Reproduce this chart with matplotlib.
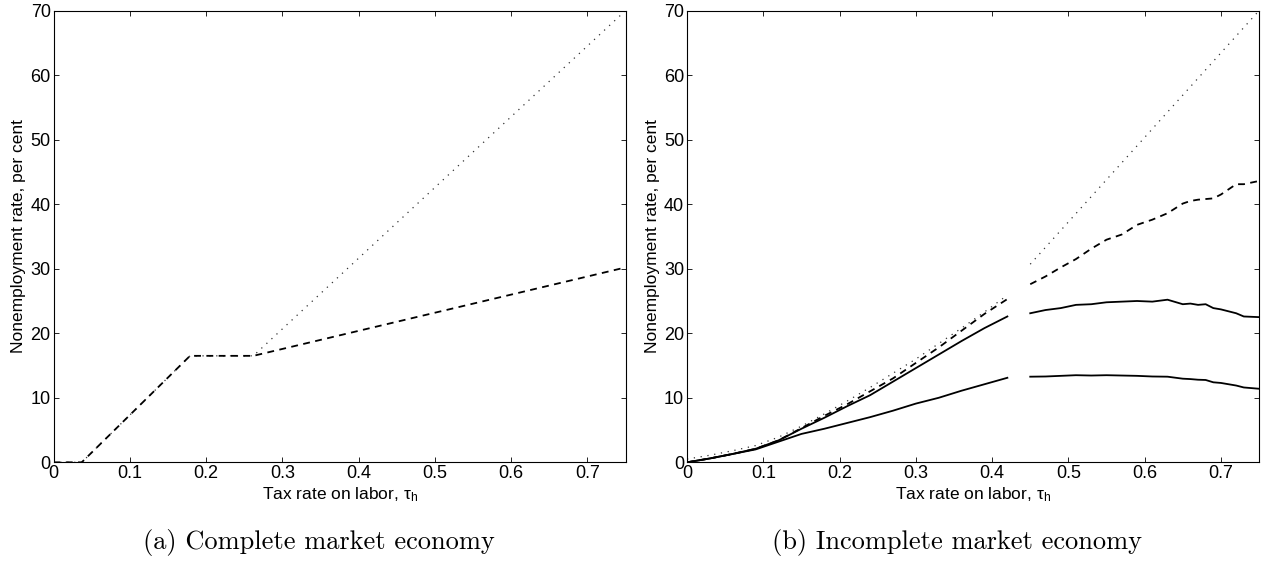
import numpy as np
import matplotlib
matplotlib.use('Agg')
import matplotlib.pyplot as plt

plt.rcParams['font.family'] = ['Liberation Sans', 'DejaVu Sans']
plt.rcParams['mathtext.fontset'] = 'custom'
plt.rcParams['mathtext.rm'] = 'Liberation Sans'
plt.rcParams['mathtext.it'] = 'Liberation Sans:italic'

# (a) complete market economy
xa_dot = [0, 0.037, 0.179, 0.262, 0.75]
ya_dot = [0, 0, 16.5, 16.5, 70.0]
xa_dash = [0, 0.037, 0.179, 0.262, 0.75]
ya_dash = [0, 0, 16.5, 16.5, 30.2]

# (b) incomplete market economy, before and after the gap
x1 = [0, 0.03, 0.06, 0.09, 0.12, 0.15, 0.18, 0.21, 0.24, 0.27, 0.30, 0.33, 0.36, 0.39, 0.42]
x2 = [0.45, 0.47, 0.49, 0.51, 0.53, 0.55, 0.57, 0.59, 0.61, 0.63, 0.65, 0.66, 0.67, 0.68,
      0.69, 0.70, 0.72, 0.73, 0.75]

upper1 = [0, 0.6, 1.3, 2.1, 3.4, 5.2, 6.9, 8.7, 10.4, 12.5, 14.6, 16.7, 18.8, 20.8, 22.6]
upper2 = [23.1, 23.6, 23.9, 24.4, 24.5, 24.8, 24.9, 25.0, 24.9, 25.2, 24.5, 24.6, 24.4, 24.5,
          23.9, 23.7, 23.1, 22.6, 22.5]
lower1 = [0, 0.6, 1.3, 2.0, 3.2, 4.4, 5.2, 6.1, 7.0, 8.0, 9.1, 10.0, 11.1, 12.1, 13.1]
lower2 = [13.27, 13.3, 13.4, 13.5, 13.45, 13.5, 13.45, 13.4, 13.3, 13.27, 12.96, 12.9, 12.8,
          12.76, 12.4, 12.3, 11.9, 11.6, 11.4]
dash1 = [0, 0.6, 1.3, 2.1, 3.4, 5.3, 7.2, 9.0, 11.0, 13.0, 15.4, 17.8, 20.4, 23.0, 25.3]
dash2 = [27.6, 28.8, 30.2, 31.5, 33.1, 34.5, 35.3, 36.8, 37.6, 38.6, 40.1, 40.5, 40.7, 40.8,
         40.9, 41.5, 43.1, 43.1, 43.6]
xb_dot1 = [0, 0.03, 0.06, 0.09, 0.12, 0.15, 0.18, 0.21, 0.24, 0.27, 0.30, 0.33, 0.36, 0.39, 0.42]
yb_dot1 = [0.5, 1.1, 1.8, 2.6, 3.9, 5.6, 7.5, 9.5, 11.6, 13.8, 16.0, 18.4, 20.8, 23.3, 25.9]
xb_dot2 = [0.45, 0.75]
yb_dot2 = [30.7, 70.0]

xticks = [0, 0.1, 0.2, 0.3, 0.4, 0.5, 0.6, 0.7]
xticklabels = ['0', '0.1', '0.2', '0.3', '0.4', '0.5', '0.6', '0.7']
yticks = [0, 10, 20, 30, 40, 50, 60, 70]

dotted = dict(color='#333333', lw=0.9, linestyle=(0, (1, 4.5)))
dashed = dict(color='black', lw=1.3, linestyle=(0, (3.8, 3.0)))
solid = dict(color='black', lw=1.3)

fig = plt.figure(figsize=(12.65, 5.61), dpi=100)
ax1 = fig.add_axes([0.0423, 0.1759, 0.4522, 0.8052])
ax2 = fig.add_axes([0.5431, 0.1759, 0.4522, 0.8052])

ax1.plot(xa_dot, ya_dot, **dotted)
ax1.plot(xa_dash, ya_dash, **dashed)

ax2.plot(xb_dot1, yb_dot1, **dotted)
ax2.plot(xb_dot2, yb_dot2, **dotted)
ax2.plot(x1, dash1, **dashed)
ax2.plot(x2, dash2, **dashed)
ax2.plot(x1, upper1, **solid)
ax2.plot(x2, upper2, **solid)
ax2.plot(x1, lower1, **solid)
ax2.plot(x2, lower2, **solid)

for ax in (ax1, ax2):
    ax.set_xlim(0, 0.75)
    ax.set_ylim(0, 70)
    ax.set_xticks(xticks)
    ax.set_xticklabels(xticklabels)
    ax.set_yticks(yticks)
    ax.tick_params(direction='in', top=True, right=True, length=3.6, width=0.6,
                   labelsize=13, pad=2)
    for s in ax.spines.values():
        s.set_linewidth(0.8)
    ax.set_xlabel('Tax rate on labor, τ$_\\mathrm{h}$', fontsize=12.5, labelpad=2)
    ax.set_ylabel('Nonemployment rate, per cent', fontsize=12.5, labelpad=3)

fig.text(319 / 1265, 1 - 543 / 561, '(a) Complete market economy', family='cmr10',
         fontsize=19, ha='center', va='center')
fig.text(957 / 1265, 1 - 543 / 561, '(b) Incomplete market economy', family='cmr10',
         fontsize=19, ha='center', va='center')

fig.savefig('out.png', dpi=100)
